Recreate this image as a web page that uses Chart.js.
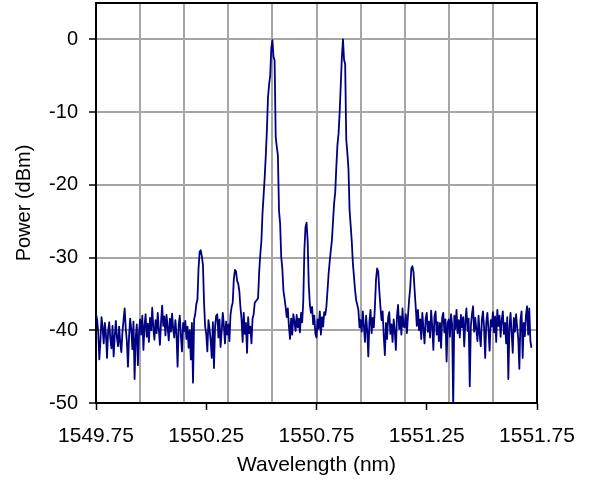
<!DOCTYPE html>
<html>
<head>
<meta charset="utf-8">
<script src="https://cdn.jsdelivr.net/npm/chart.js@4.4.0/dist/chart.umd.min.js"></script>
<style>
    html, body { margin: 0; padding: 0; background: #fff; }
    canvas { display: block; }
</style>
</head>
<body>
<canvas id="spectrum" width="592" height="482"></canvas>
<script>
// === Data ===
// OSA trace, sampled every 0.005 nm starting at 1549.75 nm (one row = 0.1 nm)
const startWl = 1549.75;
const stepWl = 0.005;
const powerDbm = [
    -37.8, -38.5, -40.2, -44.0, -41.5, -38.2, -39.6, -41.8, -39.0, -40.5, -43.8, -40.1, -38.9, -41.2, -42.5, -39.4, -43.6, -40.8, -38.7, -41.0,
    -42.2, -39.5, -41.8, -43.0, -40.2, -38.6, -37.0, -39.8, -41.5, -45.0, -40.8, -38.4, -39.9, -42.6, -38.8, -46.7, -41.0, -39.2, -44.8, -40.3,
    -38.5, -40.6, -38.0, -42.7, -39.4, -37.8, -40.9, -39.1, -41.6, -38.3, -40.0, -36.9, -39.7, -41.3, -38.6, -40.4, -37.6, -39.9, -42.0, -38.8,
    -36.6, -39.4, -38.1, -40.7, -37.9, -39.6, -41.4, -38.4, -40.2, -37.7, -39.8, -41.0, -38.6, -40.5, -45.0, -39.3, -38.0, -40.8, -42.9, -39.0,
    -40.1, -38.7, -41.2, -39.5, -42.4, -40.0, -44.0, -39.0, -47.2, -38.5, -37.8, -36.4, -35.8, -31.5, -29.2, -29.0, -29.8, -31.0, -36.2, -39.5,
    -40.5, -42.9, -38.6, -39.8, -41.4, -43.8, -38.9, -45.2, -39.5, -38.0, -37.8, -41.0, -38.5, -42.3, -40.1, -37.6, -39.4, -41.8, -38.8, -40.6,
    -39.2, -41.5, -37.9, -36.8, -36.2, -33.0, -31.7, -31.9, -33.2, -33.6, -34.6, -36.8, -38.4, -41.6, -37.6, -40.5, -39.0, -43.1, -38.2, -40.4,
    -39.5, -41.8, -38.4, -37.8, -36.2, -36.0, -35.8, -35.6, -32.0, -29.6, -27.8, -24.0, -21.5, -19.0, -16.0, -12.5, -8.0, -6.2, -5.0, -1.2,
    -0.1, -2.4, -2.9, -13.4, -14.8, -16.0, -23.6, -25.3, -29.9, -31.5, -34.5, -35.6, -36.8, -38.2, -37.0, -39.5, -41.2, -38.4, -40.6, -37.8,
    -38.8, -40.1, -37.9, -39.6, -38.4, -40.3, -37.6, -38.9, -36.0, -29.0, -25.8, -25.2, -27.8, -33.8, -36.5, -37.6, -36.8, -39.2, -38.0, -40.5,
    -41.0, -38.5, -39.8, -37.4, -40.6, -38.2, -39.5, -37.5, -37.9, -36.7, -34.5, -32.2, -30.5, -29.0, -27.6, -25.0, -22.5, -21.0, -17.5, -14.5,
    -13.0, -10.0, -6.3, -2.5, 0.0, -2.8, -3.4, -13.8, -15.6, -17.8, -23.5, -25.6, -27.8, -30.8, -32.6, -34.5, -35.9, -36.5, -37.2, -39.6,
    -38.6, -40.2, -37.4, -39.5, -41.6, -38.0, -40.0, -43.6, -38.8, -37.2, -40.4, -38.3, -39.6, -36.7, -33.0, -31.5, -31.9, -34.6, -36.8, -38.6,
    -37.4, -40.8, -43.4, -39.0, -41.2, -38.2, -37.5, -40.5, -39.2, -41.6, -38.5, -40.1, -42.7, -38.0, -36.5, -39.8, -38.1, -40.6, -37.0, -39.5,
    -39.6, -37.8, -40.4, -38.0, -35.8, -34.2, -31.5, -31.2, -32.0, -34.5, -36.8, -39.4, -37.2, -40.0, -38.5, -41.2, -37.6, -39.8, -41.8, -38.4,
    -37.6, -40.2, -38.8, -41.0, -37.3, -39.5, -42.7, -38.1, -37.4, -40.6, -38.9, -41.5, -39.0, -42.4, -38.2, -37.6, -40.3, -38.5, -44.3, -39.0,
    -38.5, -40.9, -37.8, -39.2, -50.5, -38.0, -39.8, -37.2, -40.4, -38.6, -41.0, -37.9, -39.6, -38.2, -42.2, -38.7, -37.0, -40.1, -38.4, -47.7,
    -39.4, -37.8, -36.7, -40.2, -38.3, -39.9, -41.5, -38.0, -40.6, -42.2, -38.5, -37.4, -39.7, -43.8, -38.9, -37.6, -40.0, -42.8, -38.6, -39.5,
    -37.5, -40.3, -38.1, -41.6, -37.2, -39.4, -38.0, -40.9, -38.6, -37.4, -40.5, -39.0, -41.8, -38.2, -46.7, -39.6, -37.6, -40.4, -43.1, -38.3,
    -40.2, -37.8, -39.5, -41.2, -45.3, -38.6, -37.4, -43.8, -39.0, -40.8, -37.9, -36.7, -40.6, -37.0, -41.5, -42.4
];

// gridlines every 0.2 nm, labels every 0.5 nm
const gridWl = [1549.75, 1549.95, 1550.15, 1550.35, 1550.55, 1550.75, 1550.95, 1551.15, 1551.35, 1551.55, 1551.75];
const labelWl = [1549.75, 1550.25, 1550.75, 1551.25, 1551.75];
const powerTicks = [-50, -40, -30, -20, -10, 0];

const WL_MIN = 1549.75;
const WL_MAX = 1551.75;
const P_MIN = -50;
const P_MAX = 5;

const GRID_GRAY = '#a6a6a6';

Chart.defaults.font.family = '"Liberation Sans", Arial, sans-serif';
Chart.defaults.color = '#000';

const points = powerDbm.map((p, i) => ({ x: startWl + i * stepWl, y: p }));

const ctx = document.getElementById('spectrum').getContext('2d');
new Chart(ctx, {
    type: 'line',
    data: {
        datasets: [{
            data: points,
            xAxisID: 'x',
            yAxisID: 'y',
            borderColor: '#000080',
            borderWidth: 1.8,
            borderJoinStyle: 'round',
            pointRadius: 0,
            tension: 0,
            fill: false
        }]
    },
    options: {
        responsive: false,
        animation: false,
        layout: { padding: { top: 3, right: 55, bottom: 0, left: 0 } },
        plugins: {
            legend: { display: false },
            tooltip: { enabled: false }
        },
        scales: {
            x: {
                type: 'linear',
                position: 'bottom',
                min: WL_MIN,
                max: WL_MAX,
                afterBuildTicks: axis => { axis.ticks = labelWl.map(v => ({ value: v })); },
                afterFit: axis => { axis.height = 79; },
                ticks: {
                    font: { size: 21 },
                    color: '#000',
                    padding: 14,
                    maxRotation: 0,
                    autoSkip: false,
                    callback: v => Number(v).toFixed(2)
                },
                grid: { drawOnChartArea: false, drawTicks: true, tickLength: 7, tickColor: '#000', tickWidth: 1.5 },
                border: { color: '#000', width: 2 },
                title: {
                    display: true,
                    text: 'Wavelength (nm)',
                    font: { size: 21 },
                    color: '#000',
                    padding: { top: 0, bottom: 4 }
                }
            },
            xGrid: {
                type: 'linear',
                position: 'top',
                min: WL_MIN,
                max: WL_MAX,
                afterBuildTicks: axis => { axis.ticks = gridWl.map(v => ({ value: v })); },
                ticks: { display: false },
                grid: { color: GRID_GRAY, lineWidth: 2, drawTicks: false },
                border: { color: '#000', width: 2 }
            },
            y: {
                type: 'linear',
                position: 'left',
                min: P_MIN,
                max: P_MAX,
                afterBuildTicks: axis => { axis.ticks = powerTicks.map(v => ({ value: v })); },
                afterFit: axis => {
                    axis.width = 96;
                    axis.paddingTop = 0;
                    axis.paddingBottom = 0;
                },
                ticks: {
                    font: { size: 20 },
                    color: '#000',
                    padding: 11,
                    callback: v => String(v)
                },
                grid: { color: GRID_GRAY, lineWidth: 2, tickLength: 7, tickColor: '#000', tickWidth: 1.5 },
                border: { color: '#000', width: 2 },
                title: {
                    display: true,
                    text: 'Power (dBm)',
                    font: { size: 20 },
                    color: '#000',
                    padding: { top: 12, bottom: 0 }
                }
            },
            yRight: {
                type: 'linear',
                position: 'right',
                min: P_MIN,
                max: P_MAX,
                ticks: { display: false },
                grid: { drawOnChartArea: false, drawTicks: false },
                border: { color: '#000', width: 2 }
            }
        }
    }
});
</script>
</body>
</html>
